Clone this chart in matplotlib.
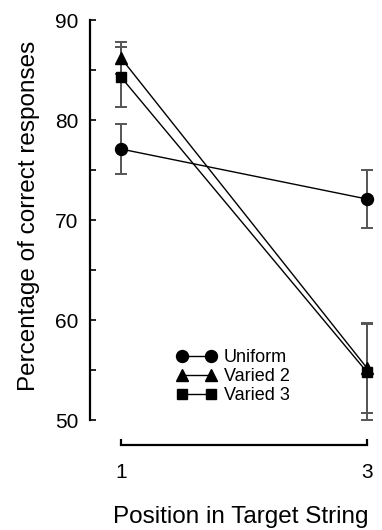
import matplotlib
matplotlib.use("Agg")
import matplotlib.pyplot as plt
from matplotlib.ticker import MultipleLocator

plt.rcParams['font.family'] = ['Liberation Sans', 'DejaVu Sans']

# values
positions = [1, 3]
uniform = [77.1, 72.1]
uniform_err = [2.5, 2.9]
varied2 = [86.2, 55.2]
varied2_err = [1.6, 4.5]
varied3 = [84.3, 54.8]
varied3_err = [3.0, 4.8]

series = [
    ("Uniform", uniform, uniform_err, "o", 8.6),
    ("Varied 2", varied2, varied2_err, "^", 9.0),
    ("Varied 3", varied3, varied3_err, "s", 7.4),
]

fig = plt.figure(figsize=(3.82, 5.30), dpi=100)
ax = fig.add_axes([0.2356, 0.2075, 0.746, 0.7547])

for name, vals, errs, mk, ms in series:
    ax.errorbar(positions, vals, yerr=errs, fmt="none", ecolor="#555555",
                elinewidth=1.4, capsize=4.3, capthick=1.4, zorder=2)
    ax.plot(positions, vals, color="black", lw=1.0, marker=mk, ms=ms,
            mfc="black", mec="black", label=name, zorder=3)

ax.set_xlim(0.748, 3.065)
ax.set_ylim(50, 90)
ax.yaxis.set_major_locator(MultipleLocator(10))
ax.yaxis.set_minor_locator(MultipleLocator(5))
ax.set_xticks(positions)
ax.set_xticklabels(["1", "3"])

for s in ["top", "right"]:
    ax.spines[s].set_visible(False)
ax.spines["left"].set_linewidth(1.6)
ax.spines["bottom"].set_linewidth(1.6)
ax.spines["bottom"].set_position(("outward", 18))
ax.spines["bottom"].set_bounds(1, 3)

ax.tick_params(axis="y", which="both", direction="in", width=1.2, pad=8.5, labelsize=15)
ax.tick_params(axis="y", which="major", length=4.5)
ax.tick_params(axis="y", which="minor", length=4.5)
ax.tick_params(axis="x", direction="in", length=4, width=1.6, pad=13, labelsize=15)

ax.set_ylabel("Percentage of correct responses", fontsize=17.5)
ax.yaxis.set_label_coords(-0.175, 0.51)
ax.set_xlabel("Position in Target String", fontsize=17.5)
ax.xaxis.set_label_coords(0.53, -0.215)

ax.legend(loc="upper left", bbox_to_anchor=(0.28, 0.195), frameon=False,
          numpoints=2, handlelength=2.2, handletextpad=0.4, labelspacing=0.1,
          fontsize=13, borderaxespad=0)

fig.savefig("out.png", dpi=100)
